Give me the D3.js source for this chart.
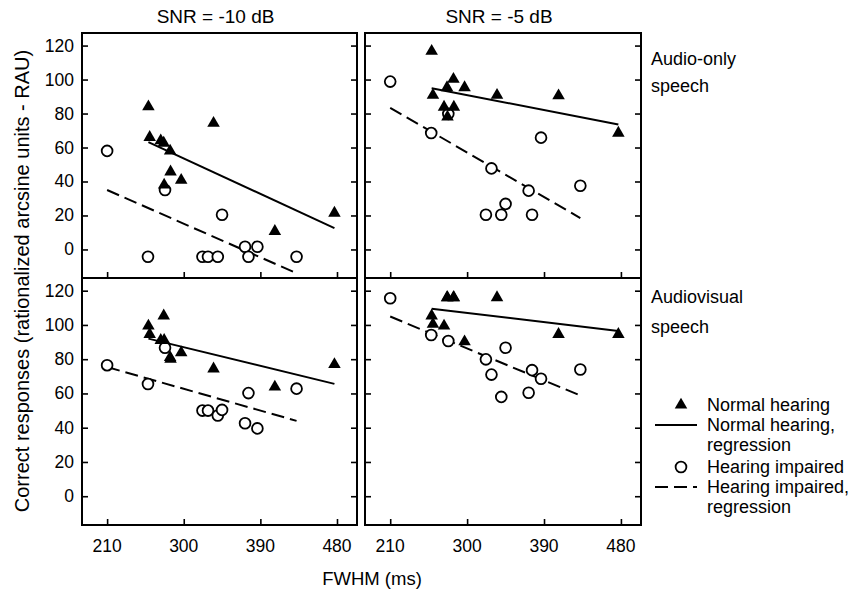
<!DOCTYPE html>
<html><head><meta charset="utf-8">
<script src="https://cdn.jsdelivr.net/npm/d3@7"></script>
<style>body{margin:0;background:#fff}svg{display:block}text{font-family:"Liberation Sans",Arial,sans-serif;fill:#000}</style>
</head><body><svg id="c" width="862" height="592"></svg>
<script>
// ---- data ----
const colTitles = ["SNR = -10 dB", "SNR = -5 dB"];
const rowLabels = [["Audio-only", "speech"], ["Audiovisual", "speech"]];
const xTicks = [210, 300, 390, 480];
const yTicks = [0, 20, 40, 60, 80, 100, 120];
// FWHM (ms) per subject
const nhFwhm = [258.5, 260, 273, 276.5, 277, 284, 284.5, 297, 335, 407, 477];
const hiFwhm = [210, 258, 278, 322, 328.5, 340, 345, 372, 376, 386.5, 432.5];
// correct responses (RAU)
const nhAudioM10 = [84, 66, 64, 62.6, 38, 58, 45.7, 40.8, 74.3, 10.7, 21.4];
const nhAudioM5  = [116.7, 90.8, 83.8, 95.3, 78, 100.2, 83.8, 95.3, 90.8, 90.5, 68.5];
const nhAvM10    = [99.4, 94.5, 91, 105.3, 91, 81, 80, 83.8, 74.4, 63.8, 76.9];
const nhAvM5     = [105.3, 100.4, 99.4, 116, 116, 116, 116, 90.2, 116, 94.5, 94.5];
const hiAudioM10 = [58, -4.3, 35, -4.3, -4.3, -4.3, 20.4, 1.6, -4.3, 1.6, -4.3];
const hiAudioM5  = [98.8, 68.5, 79.8, 20.4, 47.7, 20.4, 26.8, 34.6, 20.4, 65.8, 37.5];
const hiAvM10    = [76.5, 65.5, 86.7, 50, 50, 47.1, 50.4, 42.6, 60.2, 39.6, 62.8];
const hiAvM5     = [115.6, 94.1, 90.6, 79.9, 71, 58, 86.7, 60.4, 73.6, 68.6, 74];
// regression line values at the ends of each group's FWHM range [start, end]
const nhRegAudioM10 = [63.2, 12.6];
const nhRegAudioM5  = [94.9, 73.6];
const nhRegAvM10    = [92, 65.6];
const nhRegAvM5     = [109.5, 96.5];
const hiRegAudioM10 = [35, -14];
const hiRegAudioM5  = [83.3, 18.5];
const hiRegAvM10    = [75.4, 44];
const hiRegAvM5     = [104.9, 58.8];
const legendItems = [["Normal hearing"], ["Normal hearing,", "regression"], ["Hearing impaired"], ["Hearing impaired,", "regression"]];

// ---- layout ----
const svg = d3.select("#c");
const colX = [[82, 357], [365, 641]];
const rowY = [[33, 278], [278, 525]];
const xDomain = [180.5, 503.5];
const yDomain = [-16.8, 127.4];

const panels = [
  {r:0,c:0, nh:nhAudioM10, hi:hiAudioM10, nhReg:nhRegAudioM10, hiReg:hiRegAudioM10},
  {r:0,c:1, nh:nhAudioM5,  hi:hiAudioM5,  nhReg:nhRegAudioM5,  hiReg:hiRegAudioM5},
  {r:1,c:0, nh:nhAvM10,    hi:hiAvM10,    nhReg:nhRegAvM10,    hiReg:hiRegAvM10},
  {r:1,c:1, nh:nhAvM5,     hi:hiAvM5,     nhReg:nhRegAvM5,     hiReg:hiRegAvM5}
];
const tri = d3.symbol().type(d3.symbolTriangle).size(68);

panels.forEach(p => {
  const x = d3.scaleLinear().domain(xDomain).range(colX[p.c]);
  const y = d3.scaleLinear().domain(yDomain).range([rowY[p.r][1], rowY[p.r][0]]);
  const g = svg.append("g");
  const x0 = colX[p.c][0], x1 = colX[p.c][1], y0 = rowY[p.r][0], y1 = rowY[p.r][1];

  // ticks (inward) left and right
  const yl = d3.axisRight(y).tickValues(yTicks).tickSize(6).tickFormat("");
  const yr = d3.axisLeft(y).tickValues(yTicks).tickSize(6).tickFormat("");
  const xb = d3.axisTop(x).tickValues(xTicks).tickSize(6).tickFormat("");
  [[yl,`translate(${x0},0)`],[yr,`translate(${x1},0)`],[xb,`translate(0,${y1})`]].forEach(([ax,t])=>{
    const a = g.append("g").attr("transform", t).call(ax);
    a.select(".domain").remove();
    a.selectAll("line").attr("stroke","#000").attr("stroke-width",1.6);
  });
  if (p.c === 0) {
    g.selectAll(".yl").data(yTicks).join("text")
      .attr("x", 74).attr("y", d => y(d) + 6)
      .attr("text-anchor","end").attr("font-size", 17.5).text(d => d);
  }
  if (p.r === 1) {
    g.selectAll(".xl").data(xTicks).join("text")
      .attr("x", d => x(d)).attr("y", 552)
      .attr("text-anchor","middle").attr("font-size", 17.5).text(d => d);
  }
  // regression lines
  const nhExt = d3.extent(nhFwhm), hiExt = d3.extent(hiFwhm);
  g.append("line").attr("x1", x(nhExt[0])).attr("y1", y(p.nhReg[0]))
    .attr("x2", x(nhExt[1])).attr("y2", y(p.nhReg[1]))
    .attr("stroke","#000").attr("stroke-width",2);
  g.append("line").attr("x1", x(hiExt[0])).attr("y1", y(p.hiReg[0]))
    .attr("x2", x(hiExt[1])).attr("y2", y(p.hiReg[1]))
    .attr("stroke","#000").attr("stroke-width",2).attr("stroke-dasharray","13,6");
  // points
  g.selectAll(".hi").data(hiFwhm).join("circle")
    .attr("cx", d => x(d)).attr("cy", (d,i) => y(p.hi[i])).attr("r", 5.4)
    .attr("fill","#fff").attr("stroke","#000").attr("stroke-width",1.8);
  g.selectAll(".nh").data(nhFwhm).join("path")
    .attr("d", tri).attr("transform", (d,i) => `translate(${x(d)},${y(p.nh[i])})`)
    .attr("fill","#000");
  // frame
  g.append("rect").attr("x", x0).attr("y", y0).attr("width", x1-x0).attr("height", y1-y0)
    .attr("fill","none").attr("stroke","#000").attr("stroke-width",2);
});

// column titles
colTitles.forEach((t,i) => {
  svg.append("text").attr("x", (colX[i][0]+colX[i][1])/2 - 4).attr("y", 23)
    .attr("text-anchor","middle").attr("font-size", 19).text(t);
});
// row labels
const rowBase = [[65, 92], [303, 333]];
rowLabels.forEach((lines,i) => {
  lines.forEach((t,j) => svg.append("text").attr("x", 651).attr("y", rowBase[i][j]).attr("font-size", 18).text(t));
});
// axis titles
svg.append("text").attr("x", 372).attr("y", 585).attr("text-anchor","middle").attr("font-size", 18.5).text("FWHM (ms)");
svg.append("text").attr("transform","translate(29,281) rotate(-90)").attr("text-anchor","middle")
  .attr("font-size", 20).text("Correct responses (rationalized arcsine units - RAU)");

// legend
const lg = svg.append("g");
const legY = [[405], [425, 445], [467], [487, 507]];
lg.append("path").attr("d", tri).attr("transform", `translate(681,${legY[0][0]})`).attr("fill","#000");
lg.append("line").attr("x1",655).attr("x2",697).attr("y1",legY[1][0]).attr("y2",legY[1][0]).attr("stroke","#000").attr("stroke-width",2);
lg.append("circle").attr("cx",681).attr("cy",legY[2][0]).attr("r",5.4).attr("fill","#fff").attr("stroke","#000").attr("stroke-width",1.8);
lg.append("line").attr("x1",655).attr("x2",697).attr("y1",legY[3][0]).attr("y2",legY[3][0]).attr("stroke","#000").attr("stroke-width",2).attr("stroke-dasharray","13,6");
legendItems.forEach((lines,i) => lines.forEach((t,j) =>
  lg.append("text").attr("x", 707).attr("y", legY[i][j] + 6).attr("font-size", 18).text(t)));
</script></body></html>
